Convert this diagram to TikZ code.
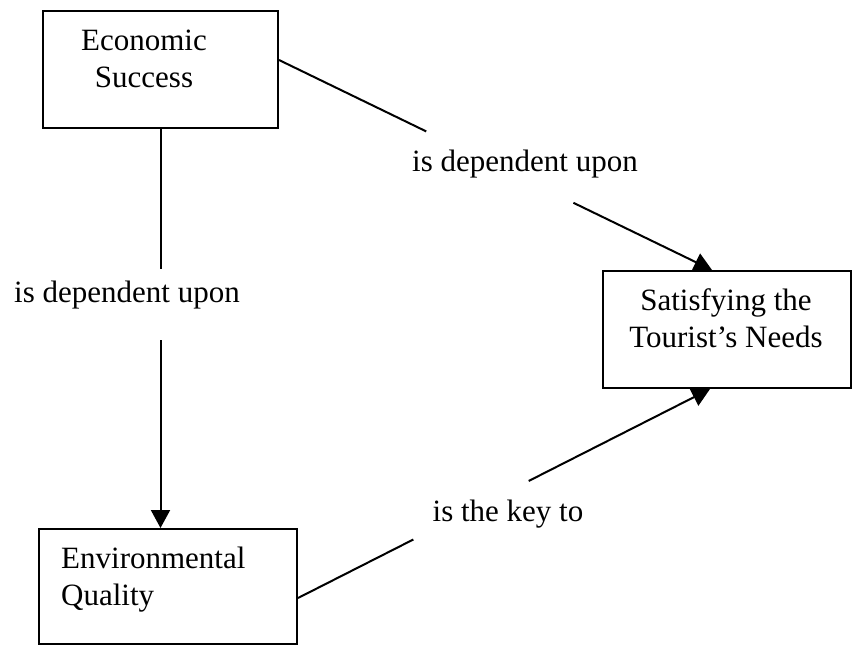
\documentclass[tikz,border=0pt]{standalone}
\usepackage{fontspec}
\setmainfont{Liberation Serif}
\usetikzlibrary{arrows.meta,calc}
\tikzstyle{every node}=[font=\fontsize{31pt}{37pt}\selectfont]

\begin{document}
\begin{tikzpicture}[x=1pt,y=-1pt,
		box/.style={draw, line width=2pt, inner sep=0pt},
		boxtext/.style={inner sep=0pt},
		link/.style={line width=2pt},
		arrowlink/.style={link, -{Triangle[length=18pt,width=19pt]}},
		lbl/.style={inner sep=0pt, anchor=base}]
		            \useasboundingbox (0,0) rectangle (853,645);

		            % Boxes
		            \node[box, minimum width=235pt, minimum height=117pt] (eco) at (160.5,69.5) {};
		            \node[box, minimum width=248pt, minimum height=117pt] (sat) at (727,329.5) {};
		            \node[box, minimum width=258pt, minimum height=115pt] (env) at (168,586.5) {};

		            % Texts in the boxes
		            \node[boxtext, align=center, anchor=north] (ecoText) at (144,30) {Economic\\Success};
		            \node[boxtext, align=center, anchor=north] (satText) at (726,288) {Satisfying the\\Tourist’s Needs};
		            \node[boxtext, align=left, anchor=north west] (envText) at (61,547) {Environmental\\Quality};

		            % Labels
		            \node[lbl] (depLeft) at (127,302) {is dependent upon};
		            \node[lbl] (depRight) at (525,171) {is dependent upon};
		            \node[lbl] (keyTo) at (508,521) {is the key to};

		            % Ends of the connectors
		            \coordinate (ecoOut) at ([yshift=9.5pt]eco.east);
		            \coordinate (satIn) at ([xshift=-15pt]sat.north);
		            \coordinate (envOut) at ([yshift=-11.5pt]env.east);
		            \coordinate (satIn2) at ([xshift=-17pt]sat.south);
		            \coordinate (envIn) at (eco.south |- env.north);

		            % Gaps round the labels
		            \coordinate (cutA) at ($(eco.south)!0.35!(envIn)$);
		            \coordinate (cutB) at ($(eco.south)!0.53!(envIn)$);
		            \coordinate (cutC) at ($(ecoOut)!0.34!(satIn)$);
		            \coordinate (cutD) at ($(ecoOut)!0.68!(satIn)$);
		            \coordinate (cutE) at ($(envOut)!0.28!(satIn2)$);
		            \coordinate (cutF) at ($(envOut)!0.56!(satIn2)$);

		            % Connectors
		            \draw[link] (eco.south) -- (cutA);
		            \draw[arrowlink] (cutB) -- (envIn);
		            \draw[link] (ecoOut) -- (cutC);
		            \draw[arrowlink] (cutD) -- (satIn);
		            \draw[link] (envOut) -- (cutE);
		            \draw[arrowlink] (cutF) -- (satIn2);
		        \end{tikzpicture}
\end{document}
